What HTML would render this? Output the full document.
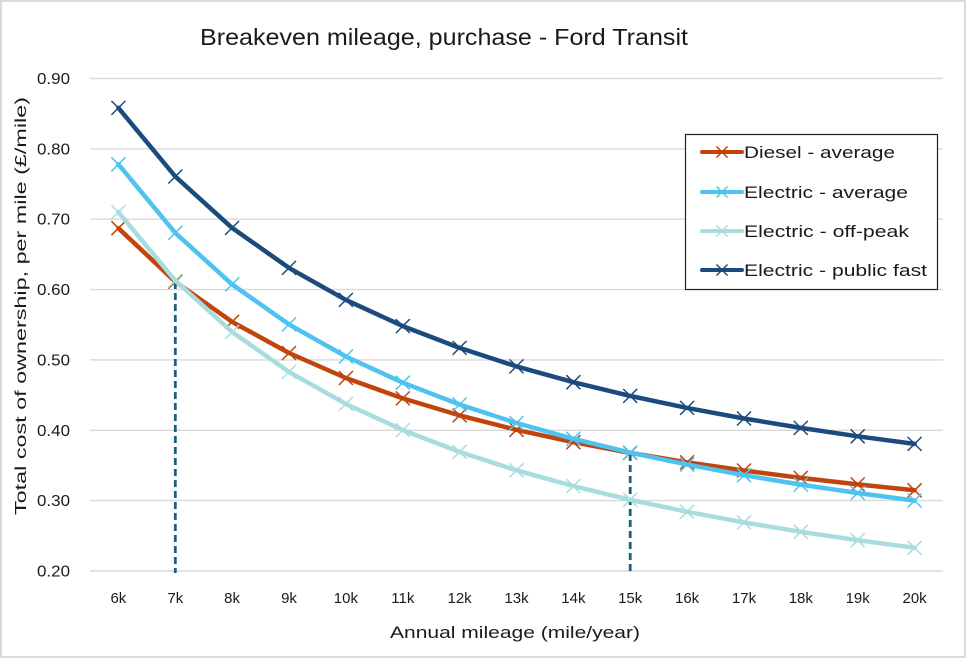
<!DOCTYPE html>
<html><head><meta charset="utf-8"><style>
html,body{margin:0;padding:0;background:#fff;}
svg{display:block;}
text{font-family:"Liberation Sans",sans-serif;fill:#1a1a1a;}
</style></head><body>
<svg width="966" height="658" viewBox="0 0 966 658" xmlns="http://www.w3.org/2000/svg">
<rect x="1" y="1" width="964" height="656" fill="#fff" stroke="#d9d9d9" stroke-width="2"/>
<text x="444" y="45" font-size="23.5" text-anchor="middle" textLength="488" lengthAdjust="spacingAndGlyphs">Breakeven mileage, purchase - Ford Transit</text>
<g stroke="#d9d9d9" stroke-width="1.4">
<line x1="90" y1="78.5" x2="943" y2="78.5"/>
<line x1="90" y1="148.9" x2="943" y2="148.9"/>
<line x1="90" y1="219.2" x2="943" y2="219.2"/>
<line x1="90" y1="289.6" x2="943" y2="289.6"/>
<line x1="90" y1="359.9" x2="943" y2="359.9"/>
<line x1="90" y1="430.3" x2="943" y2="430.3"/>
<line x1="90" y1="500.6" x2="943" y2="500.6"/>
<line x1="90" y1="571" x2="943" y2="571"/>
</g>
<g font-size="15.5" text-anchor="end">
<text x="70" y="84" textLength="33" lengthAdjust="spacingAndGlyphs">0.90</text>
<text x="70" y="154.4" textLength="33" lengthAdjust="spacingAndGlyphs">0.80</text>
<text x="70" y="224.7" textLength="33" lengthAdjust="spacingAndGlyphs">0.70</text>
<text x="70" y="295.1" textLength="33" lengthAdjust="spacingAndGlyphs">0.60</text>
<text x="70" y="365.4" textLength="33" lengthAdjust="spacingAndGlyphs">0.50</text>
<text x="70" y="435.8" textLength="33" lengthAdjust="spacingAndGlyphs">0.40</text>
<text x="70" y="506.1" textLength="33" lengthAdjust="spacingAndGlyphs">0.30</text>
<text x="70" y="576.5" textLength="33" lengthAdjust="spacingAndGlyphs">0.20</text>
</g>
<g font-size="15" text-anchor="middle">
<text x="118.4" y="603">6k</text>
<text x="175.3" y="603">7k</text>
<text x="232.1" y="603">8k</text>
<text x="289" y="603">9k</text>
<text x="345.9" y="603">10k</text>
<text x="402.8" y="603">11k</text>
<text x="459.6" y="603">12k</text>
<text x="516.5" y="603">13k</text>
<text x="573.4" y="603">14k</text>
<text x="630.2" y="603">15k</text>
<text x="687.1" y="603">16k</text>
<text x="744" y="603">17k</text>
<text x="800.8" y="603">18k</text>
<text x="857.7" y="603">19k</text>
<text x="914.6" y="603">20k</text>
</g>
<text x="515" y="638" font-size="16.5" text-anchor="middle" textLength="250" lengthAdjust="spacingAndGlyphs">Annual mileage (mile/year)</text>
<text transform="translate(26,306) rotate(-90)" x="0" y="0" font-size="16" text-anchor="middle" textLength="418" lengthAdjust="spacingAndGlyphs">Total cost of ownership, per mile (£/mile)</text>

<g stroke="#1d5f82" stroke-width="2.8" stroke-dasharray="7 4" fill="none">
<line x1="175.3" y1="282" x2="175.3" y2="573"/>
<line x1="630.2" y1="454" x2="630.2" y2="573"/>
</g>

<g stroke="#c0440c" fill="none">
<polyline stroke-width="4.5" stroke-linejoin="round" stroke-linecap="round" points="118.4,228.2 175.3,281.7 232.1,321.8 289,353 345.9,378 402.8,398.4 459.6,415.4 516.5,429.8 573.4,442.2 630.2,452.9 687.1,462.3 744,470.5 800.8,477.9 857.7,484.4 914.6,490.3"/>
<path stroke-width="1.5" d="M111.4 221.2l14 14m0-14l-14 14M168.3 274.7l14 14m0-14l-14 14M225.1 314.8l14 14m0-14l-14 14M282 346l14 14m0-14l-14 14M338.9 371l14 14m0-14l-14 14M395.8 391.4l14 14m0-14l-14 14M452.6 408.4l14 14m0-14l-14 14M509.5 422.8l14 14m0-14l-14 14M566.4 435.2l14 14m0-14l-14 14M623.2 445.9l14 14m0-14l-14 14M680.1 455.3l14 14m0-14l-14 14M737 463.5l14 14m0-14l-14 14M793.8 470.9l14 14m0-14l-14 14M850.7 477.4l14 14m0-14l-14 14M907.6 483.3l14 14m0-14l-14 14"/>
</g>
<g stroke="#4fc3ef" fill="none">
<polyline stroke-width="4.5" stroke-linejoin="round" stroke-linecap="round" points="118.4,164.3 175.3,232.9 232.1,284.4 289,324.4 345.9,356.5 402.8,382.7 459.6,404.5 516.5,423 573.4,438.8 630.2,452.6 687.1,464.6 744,475.2 800.8,484.6 857.7,493 914.6,500.6"/>
<path stroke-width="1.5" d="M111.4 157.3l14 14m0-14l-14 14M168.3 225.9l14 14m0-14l-14 14M225.1 277.4l14 14m0-14l-14 14M282 317.4l14 14m0-14l-14 14M338.9 349.5l14 14m0-14l-14 14M395.8 375.7l14 14m0-14l-14 14M452.6 397.5l14 14m0-14l-14 14M509.5 416l14 14m0-14l-14 14M566.4 431.8l14 14m0-14l-14 14M623.2 445.6l14 14m0-14l-14 14M680.1 457.6l14 14m0-14l-14 14M737 468.2l14 14m0-14l-14 14M793.8 477.6l14 14m0-14l-14 14M850.7 486l14 14m0-14l-14 14M907.6 493.6l14 14m0-14l-14 14"/>
</g>
<g stroke="#a8dde0" fill="none">
<polyline stroke-width="4.5" stroke-linejoin="round" stroke-linecap="round" points="118.4,212.1 175.3,280.6 232.1,332 289,371.9 345.9,403.9 402.8,430.1 459.6,451.9 516.5,470.3 573.4,486.1 630.2,499.8 687.1,511.8 744,522.4 800.8,531.8 857.7,540.2 914.6,547.8"/>
<path stroke-width="1.5" d="M111.4 205.1l14 14m0-14l-14 14M168.3 273.6l14 14m0-14l-14 14M225.1 325l14 14m0-14l-14 14M282 364.9l14 14m0-14l-14 14M338.9 396.9l14 14m0-14l-14 14M395.8 423.1l14 14m0-14l-14 14M452.6 444.9l14 14m0-14l-14 14M509.5 463.3l14 14m0-14l-14 14M566.4 479.1l14 14m0-14l-14 14M623.2 492.8l14 14m0-14l-14 14M680.1 504.8l14 14m0-14l-14 14M737 515.4l14 14m0-14l-14 14M793.8 524.8l14 14m0-14l-14 14M850.7 533.2l14 14m0-14l-14 14M907.6 540.8l14 14m0-14l-14 14"/>
</g>
<g stroke="#1b4b7c" fill="none">
<polyline stroke-width="4.5" stroke-linejoin="round" stroke-linecap="round" points="118.4,107.9 175.3,176.5 232.1,227.9 289,267.9 345.9,299.9 402.8,326.1 459.6,347.9 516.5,366.4 573.4,382.2 630.2,395.9 687.1,407.9 744,418.5 800.8,427.9 857.7,436.3 914.6,443.9"/>
<path stroke-width="1.5" d="M111.4 100.9l14 14m0-14l-14 14M168.3 169.5l14 14m0-14l-14 14M225.1 220.9l14 14m0-14l-14 14M282 260.9l14 14m0-14l-14 14M338.9 292.9l14 14m0-14l-14 14M395.8 319.1l14 14m0-14l-14 14M452.6 340.9l14 14m0-14l-14 14M509.5 359.4l14 14m0-14l-14 14M566.4 375.2l14 14m0-14l-14 14M623.2 388.9l14 14m0-14l-14 14M680.1 400.9l14 14m0-14l-14 14M737 411.5l14 14m0-14l-14 14M793.8 420.9l14 14m0-14l-14 14M850.7 429.3l14 14m0-14l-14 14M907.6 436.9l14 14m0-14l-14 14"/>
</g>

<rect x="685.5" y="134.5" width="252" height="155" fill="#fff" stroke="#222" stroke-width="1.2"/>
<g fill="none" stroke-width="4">
<line x1="702" y1="152" x2="742" y2="152" stroke="#c0440c" stroke-linecap="round"/>
<path d="M716.5 146.5l11 11m0-11l-11 11" stroke="#c0440c" stroke-width="1.5"/>
<line x1="702" y1="192" x2="742" y2="192" stroke="#4fc3ef" stroke-linecap="round"/>
<path d="M716.5 186.5l11 11m0-11l-11 11" stroke="#4fc3ef" stroke-width="1.5"/>
<line x1="702" y1="231" x2="742" y2="231" stroke="#a8dde0" stroke-linecap="round"/>
<path d="M716.5 225.5l11 11m0-11l-11 11" stroke="#a8dde0" stroke-width="1.5"/>
<line x1="702" y1="270" x2="742" y2="270" stroke="#1b4b7c" stroke-linecap="round"/>
<path d="M716.5 264.5l11 11m0-11l-11 11" stroke="#1b4b7c" stroke-width="1.5"/>
</g>
<g font-size="17">
<text x="744" y="158" textLength="151" lengthAdjust="spacingAndGlyphs">Diesel - average</text>
<text x="744" y="198" textLength="164" lengthAdjust="spacingAndGlyphs">Electric - average</text>
<text x="744" y="237" textLength="165" lengthAdjust="spacingAndGlyphs">Electric - off-peak</text>
<text x="744" y="276" textLength="183" lengthAdjust="spacingAndGlyphs">Electric - public fast</text>
</g>
</svg>
</body></html>
